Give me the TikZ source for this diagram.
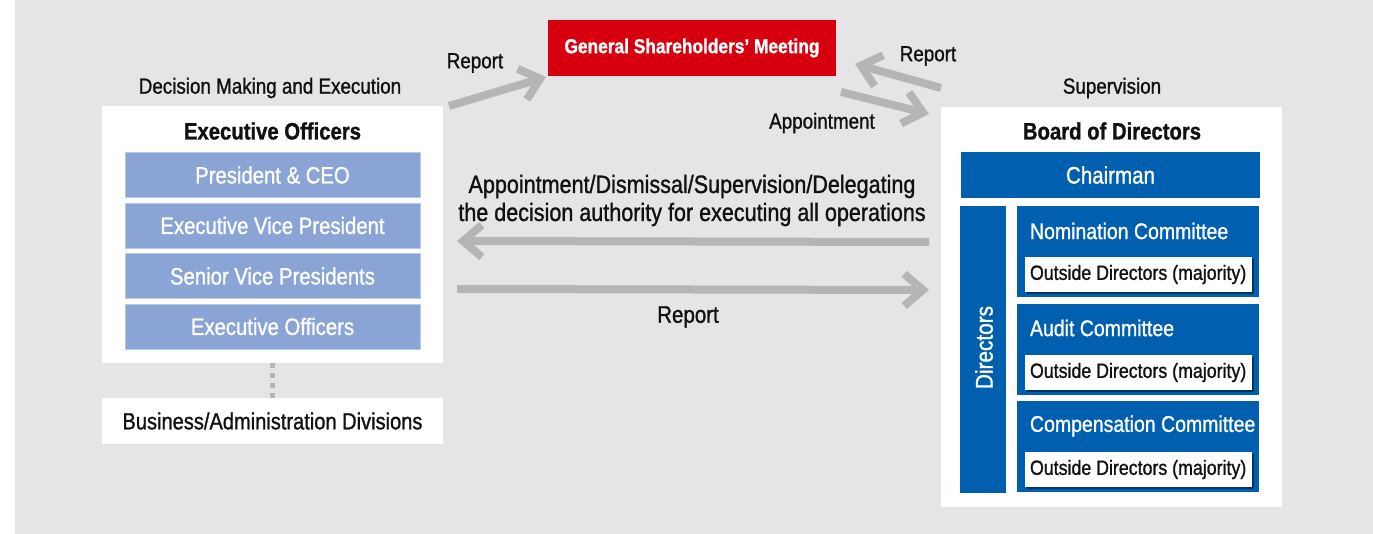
\documentclass[tikz,border=0pt]{standalone}
\usepackage{fontspec}
\setmainfont{Liberation Sans}[FakeStretch=0.86,FakeBold=1.1]
\usetikzlibrary{arrows.meta,shadows,calc}

\definecolor{canvas}{RGB}{229,229,229}
\definecolor{flowgray}{RGB}{180,181,180}
\definecolor{gsmred}{RGB}{215,0,15}
\definecolor{corpblue}{RGB}{0,96,175}
\definecolor{execblue}{RGB}{138,165,213}
\definecolor{ink}{RGB}{17,17,17}

\begin{document}
\begin{tikzpicture}[x=0.75pt,y=-0.75pt,
  every node/.style={inner sep=0pt,outer sep=0pt},
  lbl/.style={text=ink,font=\fontsize{16.4}{19}\selectfont},
  ttl/.style={text=ink,font=\fontsize{17.7}{20}\selectfont\bfseries},
  panel/.style={fill=white,minimum width=341*0.75pt},
  execbox/.style={fill=execblue,draw=execblue!60!white,line width=0.6pt,
    minimum width=295*0.75pt,minimum height=45*0.75pt,
    text=white,font=\fontsize{17.7}{20}\selectfont},
  committee/.style={fill=corpblue,minimum width=242*0.75pt,minimum height=91*0.75pt},
  ctitle/.style={anchor=west,text=white,font=\fontsize{17}{20}\selectfont},
  outside/.style={fill=white,minimum width=227*0.75pt,minimum height=35*0.75pt,
    drop shadow={shadow xshift=1.2pt,shadow yshift=-1.2pt,fill=black,opacity=0.45}},
  otext/.style={anchor=west,text=ink,font=\fontsize{15.5}{18}\selectfont},
  bigarrow/.style={draw=flowgray,line width=6pt,-{Straight Barb[length=14pt,width=24pt]}},
  dotlink/.style={draw=flowgray,line width=3.6pt,dash pattern=on 3.6pt off 4pt}
]
% canvas
\useasboundingbox (0,0) rectangle (1373,534);
\fill[white] (0,0) rectangle (1373,534);
\fill[canvas] (15,0) rectangle (1373,534);

% ---- executive side ----
\node[lbl] (dmlabel) at (270,88) {Decision Making and Execution};
\node[panel,minimum height=257*0.75pt] (exec) at (272.5,234.5) {};
\node[ttl] (exectitle) at (272.5,131) {Executive Officers};
\node[execbox] (ceo) at (272.5,175) {President \& CEO};
\node[execbox] (evp) at (272.5,225.5) {Executive Vice President};
\node[execbox] (svp) at (272.5,276) {Senior Vice Presidents};
\node[execbox] (eo)  at (272.5,326.5) {Executive Officers};
\node[panel,minimum height=46*0.75pt,text=ink,font=\fontsize{17.5}{20}\selectfont]
  (divs) at (272.5,421) {Business/Administration Divisions};
\draw[dotlink] (exec.south) -- (divs.north);

% ---- shareholders ----
\node[fill=gsmred,minimum width=288*0.75pt,minimum height=56*0.75pt,
  text=white,font=\fontsize{15.1}{18}\selectfont\bfseries] (gsm) at (692,48)
  {General Shareholders’ Meeting};

% ---- board side ----
\node[lbl] (suplabel) at (1112,88) {Supervision};
\node[panel,minimum height=400*0.75pt] (bod) at (1111.5,307) {};
\node[ttl] (bodtitle) at (1112,131) {Board of Directors};
\node[fill=corpblue,minimum width=299*0.75pt,minimum height=46*0.75pt,
  text=white,font=\fontsize{17.9}{20}\selectfont] (chair) at (1110.5,175) {Chairman};
\node[fill=corpblue,minimum width=46*0.75pt,minimum height=287*0.75pt] (dirbar) at (983,349.5) {};
\node[rotate=90,text=white,font=\fontsize{18.1}{20}\selectfont] (dirtext) at (984,347.5) {Directors};

\node[committee] (nom)  at (1138,251.5) {};
\node[committee] (aud)  at (1138,349.5) {};
\node[committee] (comp) at (1138,446.5) {};
\node[ctitle] (nomt)  at (1030,231) {Nomination Committee};
\node[ctitle] (audt)  at (1030,328) {Audit Committee};
\node[ctitle] (compt) at (1030,426) {Compensation Committee};
\node[outside] (nomo)  at (1138.5,274.5) {};
\node[outside] (audo)  at (1138.5,372.5) {};
\node[outside] (compo) at (1138.5,469.5) {};
\node[otext] at (1030,274.5) {Outside Directors (majority)};
\node[otext] at (1030,372.5) {Outside Directors (majority)};
\node[otext] at (1030,469.5) {Outside Directors (majority)};

% ---- flows ----
\coordinate (exReportTail) at ($(exec.north east)+(6,0)$);
\coordinate (exReportTip)  at ($(gsm.south west)+(-2,1)$);
\coordinate (bdReportTail) at ($(bod.north west)+(0,-19)$);
\coordinate (bdReportTip)  at ($(gsm.east)+(19,16)$);
\coordinate (apptTail)     at ($(gsm.east)+(5,44)$);
\coordinate (apptTip)      at ($(bod.north west)+(-12,7)$);
\coordinate (delegTail)    at ($(bod.north west)+(-12,135)$);
\coordinate (delegTip)     at ($(exec.north east)+(14,135)$);
\coordinate (repTail)      at ($(exec.north east)+(14,183)$);
\coordinate (repTip)       at ($(bod.north west)+(-12,183)$);

\draw[bigarrow] (exReportTail) -- (exReportTip);
\draw[bigarrow] (bdReportTail) -- (bdReportTip);
\draw[bigarrow] (apptTail) -- (apptTip);
\draw[bigarrow] (delegTail) -- (delegTip);
\draw[bigarrow] (repTail) -- (repTip);

\node[lbl] (lrep) at (475,63) {Report};
\node[lbl] (rrep) at (928,56) {Report};
\node[lbl] (appt) at (822,123) {Appointment};
\node[text=ink,align=center,font=\fontsize{18.8}{21}\selectfont] (deleg) at (692,200.5)
  {Appointment/Dismissal/Supervision/Delegating\\the decision authority for executing all operations};
\node[text=ink,font=\fontsize{17.9}{20}\selectfont] (brep) at (688,317) {Report};
\end{tikzpicture}
\end{document}
